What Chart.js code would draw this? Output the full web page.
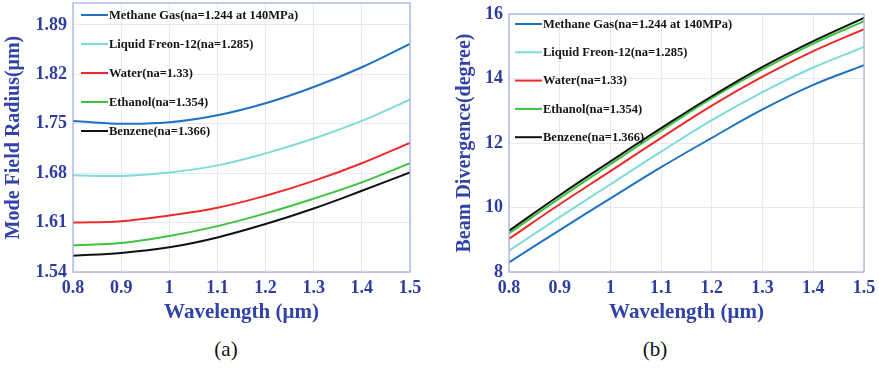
<!DOCTYPE html>
<html>
<head>
<meta charset="utf-8">
<script src="https://cdn.jsdelivr.net/npm/chart.js@4.4.0/dist/chart.umd.min.js"></script>
<style>
  body { margin: 0; background: #fff; }
  #wrap { position: relative; width: 879px; height: 368px; overflow: hidden; }
  .pane { position: absolute; top: 0; }
  .cap { position: absolute; width: 60px; text-align: center; font: 21px "Liberation Serif", serif; color: #111; line-height: 24px; }
</style>
</head>
<body>
<div id="wrap">
  <canvas id="chartA" class="pane" style="left:0px" width="440" height="330"></canvas>
  <canvas id="chartB" class="pane" style="left:440px" width="439" height="330"></canvas>
  <div class="cap" style="left:196px;top:337px">(a)</div>
  <div class="cap" style="left:625px;top:337px">(b)</div>
</div>
<script>
// wavelength in um
const wavelength = [0.8, 0.9, 1.0, 1.1, 1.2, 1.3, 1.4, 1.5];
const seriesNames = [
  "Methane Gas(na=1.244 at 140MPa)",
  "Liquid Freon-12(na=1.285)",
  "Water(na=1.33)",
  "Ethanol(na=1.354)",
  "Benzene(na=1.366)"
];
const lineColors = ["#1f72c0", "#7edcd8", "#f02a2a", "#3cc43c", "#111111"];

// (a) mode field radius, um
const mfrMethane = [1.754, 1.750, 1.752, 1.762, 1.779, 1.802, 1.830, 1.863];
const mfrFreon   = [1.677, 1.676, 1.681, 1.691, 1.708, 1.729, 1.754, 1.784];
const mfrWater   = [1.610, 1.612, 1.620, 1.631, 1.648, 1.669, 1.694, 1.723];
const mfrEthanol = [1.578, 1.581, 1.591, 1.605, 1.623, 1.644, 1.667, 1.694];
const mfrBenzene = [1.563, 1.567, 1.575, 1.589, 1.608, 1.630, 1.655, 1.681];

// (b) beam divergence, degree
const divMethane = [8.30, 9.30, 10.28, 11.25, 12.16, 13.04, 13.80, 14.41];
const divFreon   = [8.66, 9.70, 10.72, 11.73, 12.71, 13.58, 14.34, 14.98];
const divWater   = [9.03, 10.10, 11.13, 12.16, 13.16, 14.06, 14.85, 15.53];
const divEthanol = [9.20, 10.29, 11.34, 12.38, 13.39, 14.28, 15.08, 15.78];
const divBenzene = [9.28, 10.38, 11.43, 12.46, 13.45, 14.36, 15.16, 15.88];

const xTicks = [0.8, 0.9, 1.0, 1.1, 1.2, 1.3, 1.4, 1.5];
const yTicksA = [1.54, 1.61, 1.68, 1.75, 1.82, 1.89];
const yTicksB = [8, 10, 12, 14, 16];

const axisBlue = "#2d3c9e";
const gridCol = "#e6e8f6";
const boxCol = "#a3aae2";
const serif = '"Liberation Serif", "Times New Roman", serif';
Chart.defaults.font.family = serif;

// legend drawn inside the plot box, MATLAB style
// datasets are stored last-first so Benzene is painted on top; legend walks them back
const insideLegend = {
  id: "insideLegend",
  afterDatasetsDraw(chart, args, opts) {
    const ctx = chart.ctx;
    const area = chart.chartArea;
    const sets = chart.data.datasets.slice().reverse();
    ctx.save();
    ctx.font = "bold 12.5px " + serif;
    ctx.textBaseline = "middle";
    sets.forEach(function (ds, i) {
      const x = area.left + opts.x0;
      const y = area.top + opts.y0 + i * opts.gap;
      ctx.strokeStyle = ds.borderColor;
      ctx.lineWidth = 2;
      ctx.beginPath();
      ctx.moveTo(x, y);
      ctx.lineTo(x + opts.len, y);
      ctx.stroke();
      ctx.fillStyle = "#151515";
      ctx.fillText(ds.label, x + opts.len + 1, y + 0.5);
    });
    ctx.restore();
  }
};

const plotBox = {
  id: "plotBox",
  afterDraw(chart) {
    const ctx = chart.ctx;
    const a = chart.chartArea;
    ctx.save();
    ctx.strokeStyle = boxCol;
    ctx.lineWidth = 1.2;
    ctx.strokeRect(a.left, a.top, a.right - a.left, a.bottom - a.top);
    ctx.restore();
  }
};

function makeSets(arrays) {
  return arrays.map(function (arr, i) {
    return {
      label: seriesNames[i],
      data: wavelength.map(function (w, k) { return { x: w, y: arr[k] }; }),
      borderColor: lineColors[i],
      borderWidth: 2,
      pointRadius: 0,
      tension: 0.4,
      fill: false
    };
  }).reverse();
}

function makeChart(id, sets, cfg) {
  return new Chart(document.getElementById(id), {
    type: "line",
    data: { datasets: sets },
    plugins: [insideLegend, plotBox],
    options: {
      responsive: false,
      animation: false,
      events: [],
      layout: { padding: cfg.pad },
      plugins: {
        legend: { display: false },
        tooltip: { enabled: false },
        insideLegend: cfg.legend
      },
      scales: {
        x: {
          type: "linear",
          min: 0.8,
          max: 1.5,
          afterBuildTicks: function (s) { s.ticks = xTicks.map(function (v) { return { value: v }; }); },
          afterFit: function (s) { s.height = cfg.xh; s.paddingLeft = 0; s.paddingRight = 0; },
          ticks: {
            autoSkip: false,
            maxRotation: 0,
            padding: 6,
            color: axisBlue,
            font: { family: serif, size: 18, weight: "bold" },
            callback: function (v) { return String(Number(v.toFixed(1))); }
          },
          grid: { color: gridCol, drawTicks: false },
          border: { display: false },
          title: {
            display: true,
            text: "Wavelength (μm)",
            color: "#3243a8",
            font: { family: serif, size: 21, weight: "bold" },
            padding: { top: 0, bottom: 5 }
          }
        },
        y: {
          type: "linear",
          min: cfg.ymin,
          max: cfg.ymax,
          afterBuildTicks: function (s) { s.ticks = cfg.yTicks.map(function (v) { return { value: v }; }); },
          afterFit: function (s) { s.width = cfg.yw; s.paddingTop = 0; s.paddingBottom = 0; },
          ticks: {
            padding: 6,
            color: axisBlue,
            font: { family: serif, size: 18, weight: "bold" },
            callback: cfg.yFmt
          },
          grid: { color: gridCol, drawTicks: false },
          border: { display: false },
          title: {
            display: true,
            text: cfg.yTitle,
            color: "#3243a8",
            font: { family: serif, size: 20, weight: "bold" },
            padding: { top: cfg.ytPad, bottom: 0 }
          }
        }
      }
    }
  });
}

makeChart("chartA", makeSets([mfrMethane, mfrFreon, mfrWater, mfrEthanol, mfrBenzene]), {
  pad: { top: 3, right: 30, bottom: 0, left: 0 },
  xh: 58, yw: 73,
  ymin: 1.54, ymax: 1.921, yTicks: yTicksA,
  yFmt: function (v) { return v.toFixed(2); },
  yTitle: "Mode Field Radius(μm)",
  ytPad: 2,
  legend: { x0: 8, y0: 12, gap: 29, len: 27 }
});

makeChart("chartB", makeSets([divMethane, divFreon, divWater, divEthanol, divBenzene]), {
  pad: { top: 14, right: 15, bottom: 0, left: 0 },
  xh: 58, yw: 69,
  ymin: 8, ymax: 16, yTicks: yTicksB,
  yFmt: function (v) { return String(v); },
  yTitle: "Beam Divergence(degree)",
  ytPad: 13,
  legend: { x0: 6, y0: 10, gap: 28.3, len: 27 }
});
</script>
</body>
</html>
